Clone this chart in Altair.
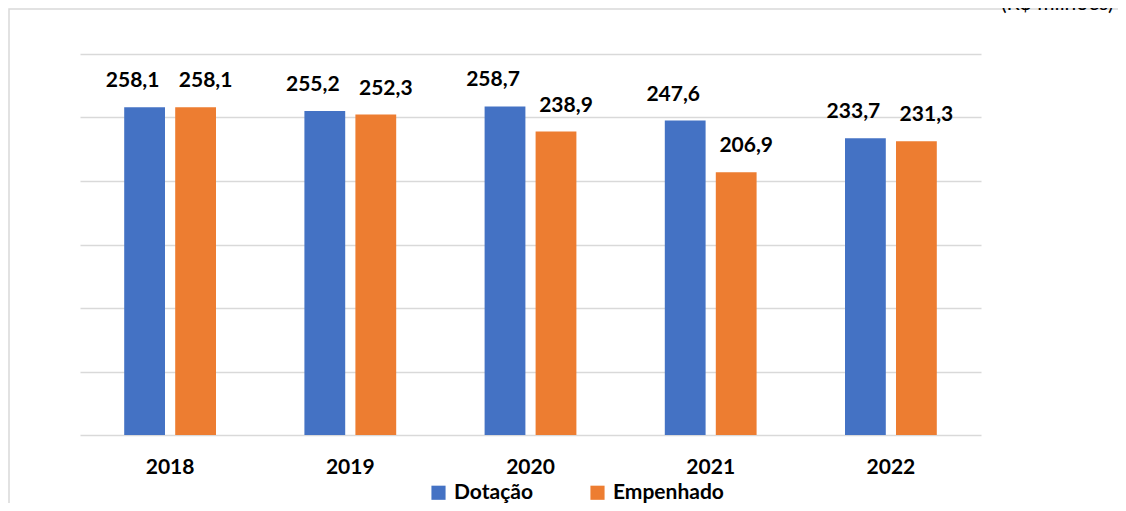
import altair as alt
import pandas as pd

years = ["2018", "2019", "2020", "2021", "2022"]
series = ["Dotação", "Empenhado"]
dotacao = [258.1, 255.2, 258.7, 247.6, 233.7]
empenhado = [258.1, 252.3, 238.9, 206.9, 231.3]
colors = ["#4472C4", "#ED7D31"]
unit_note = "(R$ milhões)"

rows = []
for i, y in enumerate(years):
    rows.append({"ano": y, "serie": series[0], "valor": dotacao[i]})
    rows.append({"ano": y, "serie": series[1], "valor": empenhado[i]})
df = pd.DataFrame(rows)
df["rotulo"] = df["valor"].map(lambda v: f"{v:.1f}".replace(".", ","))

FONT = "Lato"

x_enc = alt.X("ano:N", sort=years, title=None,
              scale=alt.Scale(paddingInner=0.434, paddingOuter=0.217),
              axis=alt.Axis(labelAngle=0, labelFont=FONT, labelFontSize=21,
                            labelFontWeight="bold", labelColor="#000000",
                            labelPadding=21, ticks=False, domain=False, grid=False))
xoff_enc = alt.XOffset("serie:N", sort=series,
                       scale=alt.Scale(domain=series, paddingInner=0.2, paddingOuter=0.1))
y_enc = alt.Y("valor:Q", title=None,
              scale=alt.Scale(domain=[0, 300], nice=False),
              axis=alt.Axis(values=[0, 50, 100, 150, 200, 250, 300], labels=False,
                            ticks=False, domain=False, grid=True,
                            gridColor="#d9d9d9", gridWidth=1.5))

base = alt.Chart(df)

bars = base.mark_bar().encode(
    x=x_enc,
    xOffset=xoff_enc,
    y=y_enc,
    color=alt.Color("serie:N", sort=series, title=None,
                    scale=alt.Scale(domain=series, range=colors),
                    legend=alt.Legend(orient="none", direction="horizontal",
                                      legendX=348, legendY=428,
                                      symbolType="square", symbolSize=200,
                                      symbolStrokeWidth=0, labelFont=FONT,
                                      labelFontSize=21, labelFontWeight="bold",
                                      labelColor="#000000", labelOffset=5,
                                      columnPadding=53)),
)

def labels(name, dx):
    return base.transform_filter(alt.datum.serie == name).mark_text(
        font=FONT, fontSize=21, fontWeight="bold", color="#000000",
        baseline="alphabetic", dy=-20, dx=dx,
    ).encode(x=alt.X("ano:N", sort=years), xOffset=alt.XOffset("serie:N", sort=series),
             y="valor:Q", text="rotulo:N")

dummy = pd.DataFrame({"a": [0]})
border = alt.Chart(dummy).mark_rect(fillOpacity=0, stroke="#d9d9d9", strokeWidth=1.5).encode(
    x=alt.value(-71), x2=alt.value(1200), y=alt.value(-45), y2=alt.value(600)
)
note = alt.Chart(pd.DataFrame({"t": [unit_note]})).mark_text(
    font=FONT, fontSize=21, color="#000000", align="left", baseline="alphabetic"
).encode(x=alt.value(921), y=alt.value(-44), text="t:N")

chart = alt.layer(border, bars, labels(series[0], -12), labels(series[1], 10), note).properties(
    width=901, height=381,
    background="#ffffff",
    autosize=alt.AutoSizeParams(type="none"),
    padding={"left": 72, "top": 46, "right": 137, "bottom": 68},
).configure_view(strokeWidth=0, stroke="transparent")

chart.save("out.html", embed_options={"renderer": "svg", "actions": False})
